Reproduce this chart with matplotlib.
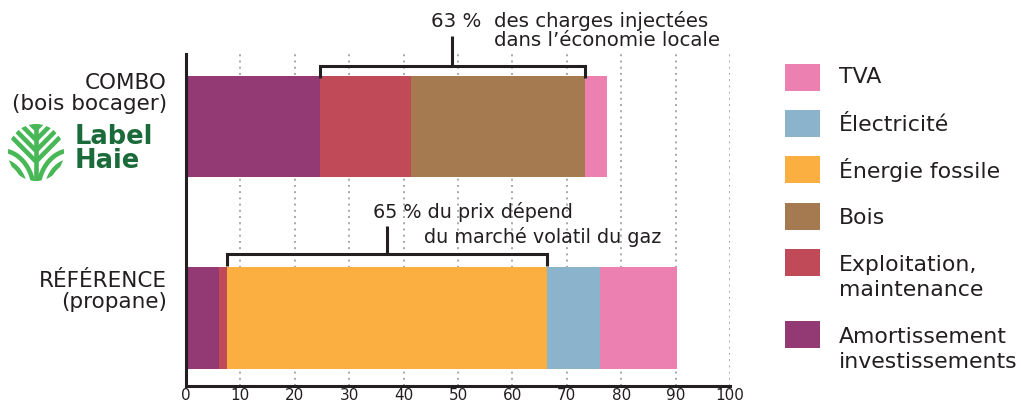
import matplotlib
matplotlib.use("Agg")
import matplotlib.pyplot as plt
from matplotlib.patches import Rectangle, Circle
import matplotlib.transforms as mtransforms
import numpy as np

# ---------------- data ----------------
categories = ["COMBO\n(bois bocager)", "RÉFÉRENCE\n(propane)"]
series_names = ["Amortissement\ninvestissements", "Exploitation,\nmaintenance",
                "Bois", "Énergie fossile", "Électricité", "TVA"]
combo_values = [24.6, 16.8, 31.9, 0.0, 0.0, 4.1]
reference_values = [6.0, 1.5, 0.0, 58.9, 9.7, 14.2]
colors = ["#933973", "#c04a58", "#a67a50", "#fbaf40", "#8bb3cb", "#ec80b0"]
xticks = [0, 10, 20, 30, 40, 50, 60, 70, 80, 90, 100]
combo_note = ["63 %", "des charges injectées", "dans l’économie locale"]
reference_note = ["65 % du prix dépend", "du marché volatil du gaz"]
logo_text = "Label\nHaie"

# ---------------- figure ----------------
W, H = 1021, 406
TXT = "#231f20"
plt.rcParams['font.family'] = ['DejaVu Sans']
fig = plt.figure(figsize=(W / 100, H / 100), dpi=100)
fig.patch.set_facecolor("white")

def fx(px):
    return px / W

def fy(py):
    return 1 - py / H

AX_BOTTOM = 387
ax = fig.add_axes([fx(186), fy(AX_BOTTOM), (730 - 186) / W, (AX_BOTTOM - 55) / H])

y_pos = [1, 0]
bar_h = 0.53
data = np.array([combo_values, reference_values])
lefts = np.zeros(2)
for i, name in enumerate(series_names):
    ax.barh(y_pos, data[:, i], left=lefts, height=bar_h, color=colors[i],
            edgecolor="none", zorder=3)
    lefts = lefts + data[:, i]

ppu = 191.4  # pixels per category unit
ax.set_xlim(0, 100)
ax.set_ylim(1.38 - (AX_BOTTOM - 55) / ppu, 1.38)
ax.set_xticks(xticks)
ax.set_xticklabels([str(t) for t in xticks])
ax.set_yticks([])
ax.tick_params(axis='x', length=0, pad=0.5, labelsize=11, labelcolor=TXT)
ax.xaxis.grid(True, color="#a8a8a8", linestyle=(0, (1, 2.2)), linewidth=1.4, zorder=0)
ax.set_axisbelow(True)
for s in ["top", "right"]:
    ax.spines[s].set_visible(False)
for s in ["left", "bottom"]:
    ax.spines[s].set_linewidth(2.2)
    ax.spines[s].set_color("#231f20")
    ax.spines[s].set_zorder(5)

# ---------------- category labels ----------------
cat_lines = [[(89, categories[0].split("\n")[0]), (110, categories[0].split("\n")[1])],
             [(287, categories[1].split("\n")[0]), (308, categories[1].split("\n")[1])]]
for lines in cat_lines:
    for py, t in lines:
        fig.text(fx(167), fy(py), t, ha="right", va="baseline", fontsize=15.5, color=TXT)

# ---------------- brackets ----------------
blend = mtransforms.blended_transform_factory(ax.transData, fig.transFigure)
cum_c = np.concatenate([[0], np.cumsum(combo_values)])
cum_r = np.concatenate([[0], np.cumsum(reference_values)])

def bracket(x0, x1, y_line, y_end, y_top):
    ax.plot([x0, x0, x1, x1], [fy(y_end), fy(y_line), fy(y_line), fy(y_end)],
            transform=blend, color=TXT, lw=2.2, clip_on=False, zorder=6,
            solid_joinstyle="miter", solid_capstyle="butt")
    xm = (x0 + x1) / 2
    ax.plot([xm, xm], [fy(y_line), fy(y_top)], transform=blend, color=TXT,
            lw=2.2, clip_on=False, zorder=6, solid_capstyle="butt")

bracket(cum_c[1], cum_c[3], 67, 79, 37)
bracket(cum_r[2], cum_r[4], 255, 267, 227)

fig.text(fx(481), fy(27), combo_note[0], ha="right", va="baseline", fontsize=14.2, color=TXT)
fig.text(fx(494), fy(27), combo_note[1], ha="left", va="baseline", fontsize=14.2, color=TXT)
fig.text(fx(494), fy(46), combo_note[2], ha="left", va="baseline", fontsize=14.2, color=TXT)
fig.text(fx(373), fy(218), reference_note[0], ha="left", va="baseline", fontsize=13.8, color=TXT)
fig.text(fx(424), fy(243), reference_note[1], ha="left", va="baseline", fontsize=13.8, color=TXT)

# ---------------- legend ----------------
legend_rows = [  # (square centre y, list of baselines)
    (78, [83]), (124.5, [131]), (170.5, [178]), (217.5, [224]),
    (263.5, [271, 296]), (335.5, [343, 368]),
]
for k, idx in enumerate(range(len(series_names) - 1, -1, -1)):
    cy, baselines = legend_rows[k]
    fig.patches.append(Rectangle((fx(785), fy(cy + 13.5)), 35 / W, 27 / H,
                                 transform=fig.transFigure, facecolor=colors[idx],
                                 edgecolor="none"))
    for bl, line in zip(baselines, series_names[idx].split("\n")):
        fig.text(fx(839), fy(bl), line, ha="left", va="baseline", fontsize=15.8, color=TXT)

# ---------------- logo ----------------
GREEN = "#48b856"
DGREEN = "#1b6b3a"
lax = fig.add_axes([fx(8), fy(182), 56 / W, 57 / H])
lax.set_xlim(-1, 1)
lax.set_ylim(-1, 1)
lax.axis("off")
clip = Circle((0, 0), 1.0, transform=lax.transData)
lw = 3.3
segs = []
segs.append(([0, 0], [-1.1, 1.1]))
for b in [0.82, 0.44, 0.06, -0.32]:
    segs.append(([0, -1.5], [b, b + 1.5]))
    segs.append(([0, 1.5], [b, b + 1.5]))
th = np.linspace(0, np.pi / 2, 80)
cx, cy0 = 1.25, 1.4
for r in [1.18, 0.88, 0.58]:
    segs.append((-cx + r * np.cos(th), -cy0 + r * np.sin(th) * 1.25))
    segs.append((cx - r * np.cos(th), -cy0 + r * np.sin(th) * 1.25))
for xs, ys in segs:
    ln, = lax.plot(xs, ys, color=GREEN, lw=lw, solid_capstyle="butt")
    ln.set_clip_path(clip)

# anchor on the baseline of the last line ("Haie")
fig.text(fx(75), fy(168), logo_text, ha="left", va="baseline", fontsize=18.5,
         fontweight="bold", color=DGREEN, linespacing=0.9)

fig.savefig("out.png", dpi=100, facecolor="white")
